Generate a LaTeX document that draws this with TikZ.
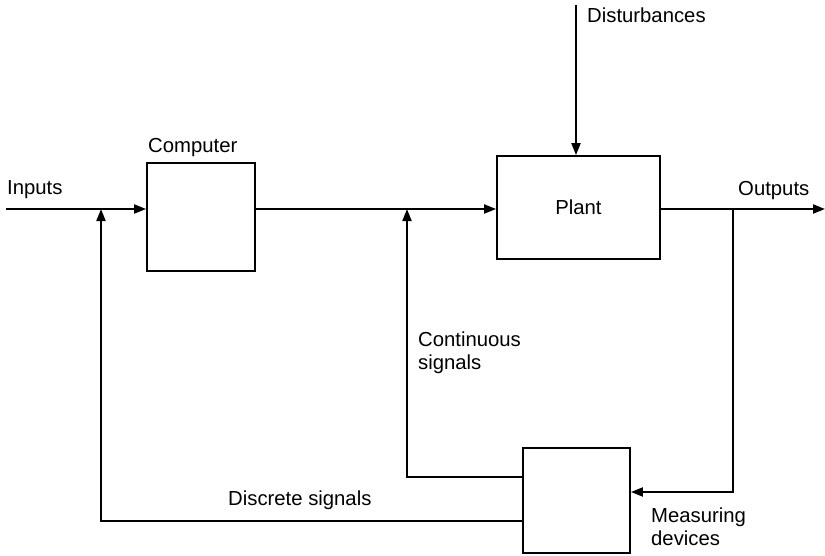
\documentclass[tikz,border=0pt]{standalone}
\usepackage{fontspec}
\setmainfont{Liberation Sans}
\usetikzlibrary{arrows.meta}
\begin{document}
\begin{tikzpicture}[x=1pt,y=-1pt,
  box/.style={draw,line width=1.8pt,inner sep=0pt,anchor=center},
  conn/.style={line width=2pt},
  arr/.style={conn,-{Triangle[length=12pt,width=9pt]}},
  lbl/.style={anchor=base west,inner sep=0pt,font=\fontsize{20.3}{22.5}\selectfont}]
\useasboundingbox (0,0) rectangle (825,555);
\node[box,minimum width=108pt,minimum height=108pt] (comp) at (201,217) {};
\node[box,minimum width=163pt,minimum height=103pt,font=\fontsize{20.3}{22}\selectfont] (plant) at (578.5,207.5) {\raisebox{-2pt}{Plant}};
\node[box,minimum width=107pt,minimum height=105pt] (meas) at (576.5,500.5) {};
\coordinate (in) at (6,209);
\coordinate (out) at (825,209);
\coordinate (dist) at (576,5);
\coordinate (br) at (733,209);
\coordinate (mi) at (733,492);
\coordinate (c1) at (407,477);
\coordinate (cj) at (407,209);
\coordinate (d1) at (101,521);
\coordinate (dj) at (101,209);
\draw[arr] (in) -- (comp.west |- in);
\draw[arr] (comp.east |- in) -- (plant.west |- in);
\draw[arr] (plant.east |- in) -- (out);
\draw[arr] (dist) -- (dist |- plant.north);
\draw[arr] (br) -- (mi) -- (meas.east |- mi);
\draw[arr] (meas.west |- c1) -- (c1) -- (cj);
\draw[arr] (meas.west |- d1) -- (d1) -- (dj);
\node[lbl] (tin) at (7,194) {Inputs};
\node[lbl] (tcomp) at (148,152) {Computer};
\node[lbl] (tdist) at (587,22) {Disturbances};
\node[lbl] (tout) at (738,195) {Outputs};
\node[lbl,align=left] (tcont) at (418,369) {Continuous\\signals};
\node[lbl,align=left] (tmeas) at (651,545) {Measuring\\devices};
\node[lbl] (tdisc) at (228,505) {Discrete signals};
\end{tikzpicture}
\end{document}
